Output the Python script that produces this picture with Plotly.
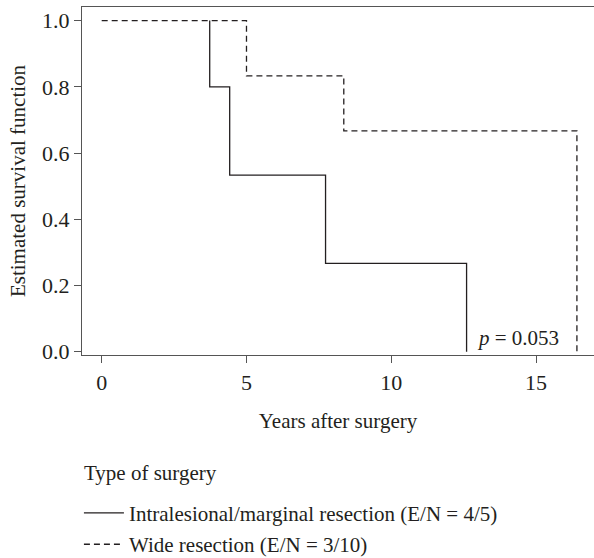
import plotly.graph_objects as go

# Kaplan-Meier step data
intra_time = [3.73, 3.73, 4.42, 4.42, 7.73, 7.73, 12.6, 12.6]
intra_surv = [1.0, 0.8, 0.8, 0.533, 0.533, 0.267, 0.267, 0.0]
wide_time = [0.0, 5.0, 5.0, 8.36, 8.36, 16.41, 16.41]
wide_surv = [1.0, 1.0, 0.833, 0.833, 0.667, 0.667, 0.0]

x_ticks = [0, 5, 10, 15]
y_ticks = [0.0, 0.2, 0.4, 0.6, 0.8, 1.0]

labels = ["Intralesional/marginal resection (E/N = 4/5)", "Wide resection (E/N = 3/10)"]
legend_title = "Type of surgery"
p_text = "<i>p</i> = 0.053"
p_pos = (14.36, 0.04)

FONT = "Liberation Serif"
FS = 21
INK = "#231f20"

fig = go.Figure()
fig.add_trace(go.Scatter(x=intra_time, y=intra_surv, mode="lines", name=labels[0],
                         legendgroup="a",
                         line=dict(color=INK, width=1.3)))
fig.add_trace(go.Scatter(x=wide_time, y=wide_surv, mode="lines", name=labels[1],
                         legendgroup="b",
                         line=dict(color=INK, width=1.3, dash="6px,4px")))

fig.add_annotation(x=p_pos[0], y=p_pos[1], text=p_text, showarrow=False,
                   font=dict(family=FONT, size=FS, color=INK))
fig.add_annotation(xref="paper", yref="paper", x=0.0, xanchor="left",
                   y=-0.338, yanchor="middle", text=legend_title, showarrow=False,
                   font=dict(family=FONT, size=FS, color=INK))

axis_common = dict(showline=True, linecolor="#555", linewidth=1.3, mirror=True,
                   ticks="outside", ticklen=7, tickcolor="#555", tickwidth=1.3,
                   showgrid=False, zeroline=False, automargin=False,
                   tickfont=dict(family=FONT, size=FS + 1, color=INK))

fig.update_layout(
    width=594, height=558,
    margin=dict(l=82, r=0, t=7, b=203, autoexpand=False),
    plot_bgcolor="white", paper_bgcolor="white",
    font=dict(family=FONT, size=FS, color=INK),
    showlegend=True,
    legend=dict(
        x=-0.006, xanchor="left", y=-0.396, yanchor="top",
        orientation="v", traceorder="grouped", tracegroupgap=1,
        itemwidth=40,
        font=dict(family=FONT, size=FS, color=INK),
        bgcolor="rgba(0,0,0,0)",
    ),
    xaxis=dict(range=[-0.68, 17.0], tickvals=x_ticks,
               title=dict(text="Years after surgery", standoff=19,
                          font=dict(family=FONT, size=FS, color=INK)),
               **axis_common),
    yaxis=dict(range=[-0.01, 1.041], tickvals=y_ticks, tickformat=".1f",
               title=dict(text="Estimated survival function", standoff=10,
                          font=dict(family=FONT, size=FS, color=INK)),
               **axis_common),
)

fig.write_html("out.html")
